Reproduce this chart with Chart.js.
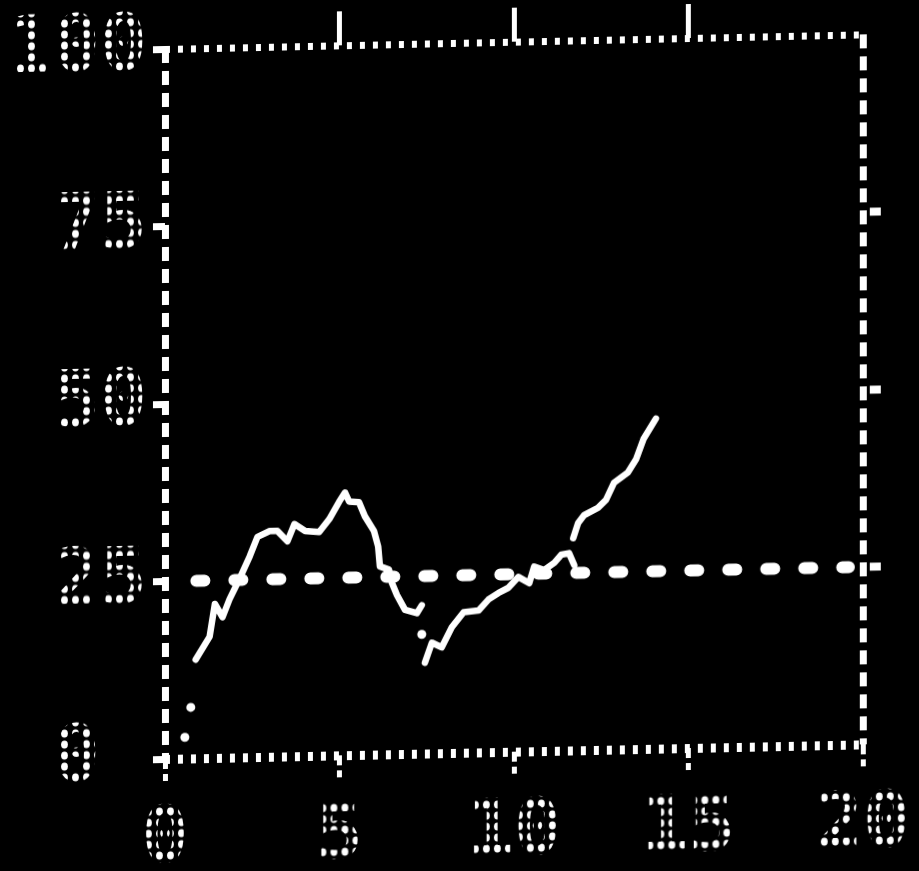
<!DOCTYPE html>
<html>
<head>
<meta charset="utf-8">
<script src="https://cdn.jsdelivr.net/npm/chart.js@4.4.1/dist/chart.umd.min.js"></script>
<style>
  html, body { margin: 0; padding: 0; background: #000; overflow: hidden; }
  #wrap { width: 919px; height: 871px; }
  /* the scope screen is photographed slightly askew */
  canvas { display: block; transform: skewY(-1.2deg); transform-origin: 165px 0; }
</style>
</head>
<body>
<div id="wrap"><canvas id="scope" width="919" height="871"></canvas></div>
<script>
// Axis labels
const xTickLabels = ['0', '5', '10', '15', '20'];
const yTickLabels = ['0', '25', '50', '75', '100'];
const innerTicksX = [5, 10, 15];
const innerTicksY = [25, 50, 75];
const edgeX = [0, 20];
const edgeY = [0, 100];

// Beam trace; null marks a break in the beam
const traceX = [0.88, 1.28, 1.43, 1.65, 1.85, 2.17, 2.43, 2.65, 3.0, 3.22, 3.51, 3.71, 4.02, 4.42, 4.71,
  4.99, 5.16, 5.28, 5.56, 5.73, 5.99, 6.11, 6.16, 6.42, 6.5, 6.65, 6.88, 7.22, 7.36,
  7.4,
  7.45, 7.65, 7.93, 8.22, 8.56, 8.99, 9.27, 9.56, 9.84, 10.13, 10.44, 10.58, 10.87, 11.16, 11.36, 11.58, 11.73,
  11.72,
  11.7, 11.84, 12.01, 12.41, 12.64, 12.87, 13.27, 13.5, 13.72, 14.07];
const traceY = [13.9, 17.1, 21.7, 19.8, 22.3, 25.5, 28.3, 31.0, 31.8, 31.8, 30.3, 32.7, 31.7, 31.5, 33.3,
  35.7, 37.0, 35.7, 35.6, 33.6, 31.5, 29.3, 26.5, 26.0, 24.2, 22.4, 20.3, 19.8, 20.9,
  null,
  12.8, 15.6, 14.9, 17.7, 19.8, 20.0, 21.5, 22.4, 23.1, 24.6, 23.7, 26.0, 25.5, 26.5, 27.6, 27.8, 26.1,
  null,
  29.9, 32.0, 33.1, 34.1, 35.2, 37.6, 39.0, 40.8, 43.7, 46.5];

// Isolated bright spots of the beam
const spotX = [0.57, 0.74, 7.36];
const spotY = [3.0, 7.2, 16.8];

// Dashed reference level
const refX = [0.9, 19.6];
const refY = [25, 25];

const canvas = document.getElementById('scope');

// Dot-matrix fill for the digits
function dotMatrix() {
  const tile = document.createElement('canvas');
  tile.width = 11;
  tile.height = 11;
  const t = tile.getContext('2d');
  t.fillStyle = '#fff';
  t.beginPath();
  t.ellipse(5.5, 5.5, 3.4, 4.0, 0, 0, Math.PI * 2);
  t.fill();
  return canvas.getContext('2d').createPattern(tile, 'repeat');
}
const digitInk = dotMatrix();

const labelFont = { family: "'DejaVu Sans Mono', monospace", size: 78, weight: 'bold' };
const pairs = (xs, ys) => xs.map((x, i) => ({ x, y: ys[i] }));
const NONE = 'rgba(0,0,0,0)';
const pick = (list) => (ctx) => (ctx.tick && list.includes(ctx.tick.value)) ? '#fff' : NONE;

const blackScreen = {
  id: 'blackScreen',
  beforeDraw(chart) {
    const c = chart.ctx;
    c.save();
    c.fillStyle = '#000';
    c.fillRect(0, 0, chart.width, chart.height);
    c.restore();
  }
};

new Chart(canvas, {
  type: 'line',
  data: {
    datasets: [
      {
        data: pairs(refX, refY),
        borderColor: '#fff',
        borderWidth: 12,
        borderDash: [8, 30],
        borderCapStyle: 'round',
        pointRadius: 0
      },
      {
        data: pairs(traceX, traceY),
        borderColor: '#fff',
        borderWidth: 6.5,
        borderCapStyle: 'round',
        borderJoinStyle: 'round',
        pointRadius: 0,
        spanGaps: false,
        tension: 0
      },
      {
        type: 'scatter',
        data: pairs(spotX, spotY),
        backgroundColor: '#fff',
        borderWidth: 0,
        pointRadius: 4.5,
        showLine: false
      }
    ]
  },
  options: {
    responsive: false,
    animation: false,
    devicePixelRatio: 1,
    layout: { padding: 0 },
    plugins: { legend: { display: false }, tooltip: { enabled: false } },
    scales: {
      x: {
        type: 'linear', position: 'bottom', min: 0, max: 20,
        ticks: {
          stepSize: 5, autoSkip: false, maxRotation: 0, color: digitInk, font: labelFont, padding: 14,
          callback: (v, i) => xTickLabels[i]
        },
        // grid lines at 0 and 20 form the dotted left and right frame
        grid: {
          drawOnChartArea: true, color: pick(edgeX), lineWidth: 7,
          tickLength: 22, tickWidth: 5, tickColor: '#fff', tickBorderDash: [10, 5]
        },
        border: { display: false, dash: [14, 8] },
        afterFit(s) { s.height = 112; s.paddingLeft = 0; s.paddingRight = 0; }
      },
      x2: {
        type: 'linear', position: 'top', min: 0, max: 20,
        ticks: { display: false, stepSize: 5 },
        grid: { drawOnChartArea: false, tickLength: 34, tickWidth: 5, tickColor: pick(innerTicksX) },
        border: { display: false },
        afterFit(s) { s.height = 49; s.paddingLeft = 0; s.paddingRight = 0; }
      },
      y: {
        type: 'linear', position: 'left', min: 0, max: 100,
        ticks: {
          stepSize: 25, autoSkip: false, color: digitInk, font: labelFont, padding: 6,
          callback: (v, i) => yTickLabels[i].length === 1 ? yTickLabels[i] + ' ' : yTickLabels[i]
        },
        // grid lines at 0 and 100 form the dotted bottom and top frame
        grid: {
          drawOnChartArea: true, color: pick(edgeY),
          lineWidth: (ctx) => (ctx.tick && ctx.tick.value === 0) ? 9 : 7,
          tickLength: 12, tickWidth: 7, tickColor: '#fff'
        },
        border: { display: false, dash: [5, 8] },
        afterFit(s) { s.width = 165; s.paddingTop = 0; s.paddingBottom = 0; }
      },
      y2: {
        type: 'linear', position: 'right', min: 0, max: 100,
        ticks: { display: false, stepSize: 25 },
        grid: {
          drawOnChartArea: false, tickLength: 20, tickWidth: 8,
          tickColor: pick(innerTicksY), tickBorderDash: [0, 7, 11, 60]
        },
        border: { display: false },
        afterFit(s) { s.width = 56; s.paddingTop = 0; s.paddingBottom = 0; }
      }
    }
  },
  plugins: [blackScreen]
});
</script>
</body>
</html>
